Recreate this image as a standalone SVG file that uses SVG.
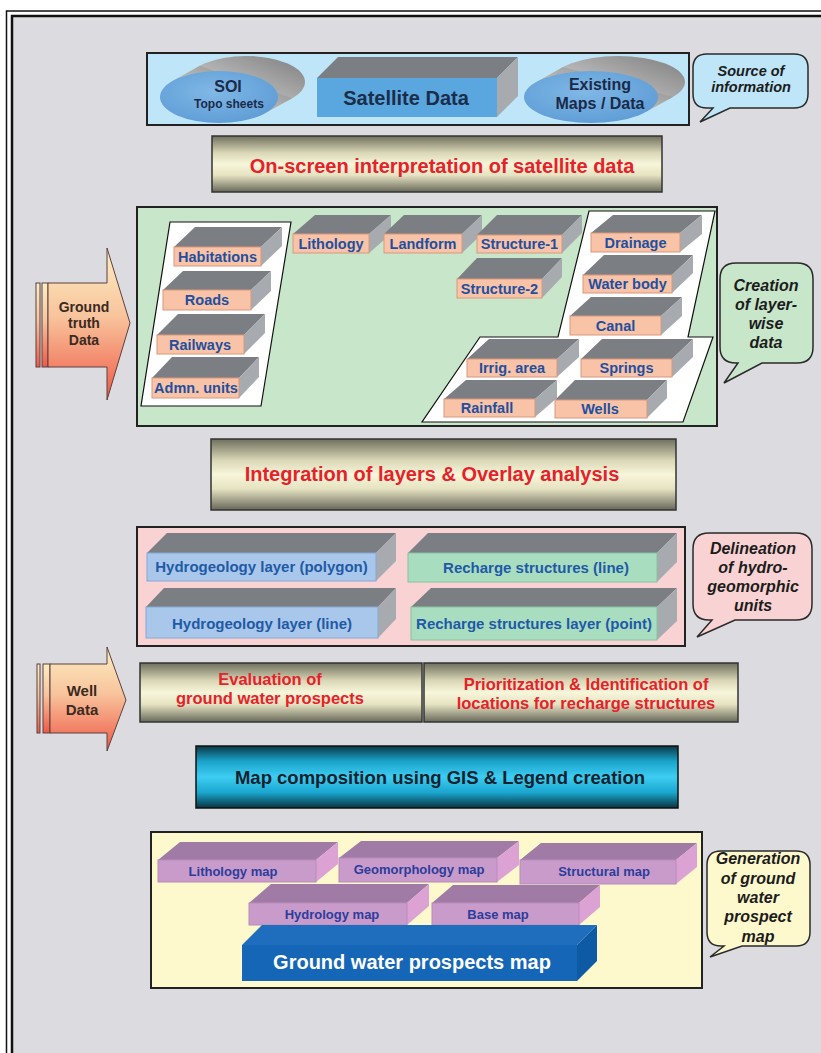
<svg xmlns="http://www.w3.org/2000/svg" width="821" height="1053" viewBox="0 0 821 1053">
<defs>
<linearGradient id="tan" x1="0" y1="0" x2="0" y2="1">
<stop offset="0" stop-color="#6f6f5e"/><stop offset="0.3" stop-color="#d9d7b6"/><stop offset="0.5" stop-color="#f8f6da"/><stop offset="0.7" stop-color="#e6e3c2"/><stop offset="1" stop-color="#68685a"/>
</linearGradient>
<linearGradient id="cyan" x1="0" y1="0" x2="0" y2="1">
<stop offset="0" stop-color="#0b3845"/><stop offset="0.25" stop-color="#1aa4cc"/><stop offset="0.5" stop-color="#3ecdf2"/><stop offset="0.75" stop-color="#1aa6cf"/><stop offset="1" stop-color="#083440"/>
</linearGradient>
<linearGradient id="arr" x1="0" y1="0" x2="0" y2="1">
<stop offset="0" stop-color="#fdeec2"/><stop offset="0.45" stop-color="#f8c49c"/><stop offset="1" stop-color="#ef5846"/>
</linearGradient>
<linearGradient id="grayback" x1="0" y1="1" x2="1" y2="0">
<stop offset="0" stop-color="#e2e2e2"/><stop offset="1" stop-color="#7e7e7e"/>
</linearGradient>
<radialGradient id="ell" cx="0.45" cy="0.4" r="0.7">
<stop offset="0" stop-color="#80b8e6"/><stop offset="1" stop-color="#5b9ad4"/>
</radialGradient>
<style>
.frame{fill:none;stroke:#111}
.panel{stroke:#222;stroke-width:2}
.top{fill:#7b7e83}
.side{fill:#a7abb0}
.sal{fill:#f8c3a7;stroke:#d9987f;stroke-width:1}
.blu{fill:#a9c7ea;stroke:#86a8d2;stroke-width:1}
.grn{fill:#a9ddc0;stroke:#88c2a2;stroke-width:1}
.ptop{fill:#a07ba6}
.pside{fill:#dca2d4}
.pur{fill:#c99bca;stroke:#b88bbb;stroke-width:1}
.proc{fill:url(#tan);stroke:#333;stroke-width:1.5}
.callout{stroke:#2a2a2a;stroke-width:1.5}
.t{font-family:"Liberation Sans",Arial,sans-serif;font-weight:bold;text-anchor:middle}
.lay{font-size:14.5px;fill:#1f4f9f}
.lay2{font-size:15px;fill:#1f5aa6}
.pm{font-size:13px;fill:#2b3d9c}
.red{fill:#e5222a}
.ci{font-style:italic;fill:#1c1c1c}
.arrow{fill:url(#arr);stroke:#5a4040;stroke-width:1}
</style>
</defs>

<rect x="0" y="0" width="821" height="1053" fill="#ffffff"/>
<g id="frame">
<rect class="frame" x="6.5" y="11" width="830" height="1060" stroke-width="1.5"/>
<rect x="12" y="16" width="830" height="1060" fill="#dcdce0" stroke="#111" stroke-width="2.5"/>
</g>

<g id="connectors"></g>

<!-- Source of information -->
<g id="source-box">
<rect class="panel" x="147" y="53" width="542" height="72" fill="#bfe6f8" stroke-width="2.5"/>
</g>
<g id="soi">
<ellipse cx="246" cy="82" rx="59" ry="26" fill="url(#grayback)"/>
<polygon points="265.2,113.2 292.2,98.2 199.8,65.8 172.8,80.8" fill="url(#grayback)"/>
<ellipse cx="219" cy="97" rx="59" ry="26" fill="url(#ell)"/>
<text class="t" x="228" y="92" font-size="16" fill="#1a2a48">SOI</text>
<text class="t" x="229" y="108" font-size="12" fill="#1a2a48">Topo sheets</text>
</g>
<g id="satellite">
<polygon class="top" points="317,78 338,57 518,57 497,78"/>
<polygon class="side" points="497,78 518,57 518,96 497,117"/>
<rect x="317" y="78" width="180" height="39" fill="#5aa6df"/>
<text class="t" x="406" y="105" font-size="20" fill="#1a2e4a">Satellite Data</text>
</g>
<g id="existing">
<ellipse cx="618" cy="82" rx="67" ry="26" fill="url(#grayback)"/>
<polygon points="645.9,111.9 672.9,96.9 563.1,67.1 536.1,82.1" fill="url(#grayback)"/>
<ellipse cx="591" cy="97" rx="67" ry="26" fill="url(#ell)"/>
<text class="t" x="600" y="90" font-size="16" fill="#1a2a48">Existing</text>
<text class="t" x="600" y="109" font-size="16" fill="#1a2a48">Maps / Data</text>
</g>
<g id="callout-source">
<path class="callout" fill="#bfe6f8" d="M707,54 H794 Q808,54 808,68 V94 Q808,108 794,108 H730 L700,122 L713,108 H707 Q693,108 693,94 V68 Q693,54 707,54 Z"/>
<text class="t ci" x="751" y="76" font-size="14.5" fill="#1a2a48">Source of</text>
<text class="t ci" x="751" y="92" font-size="14.5" fill="#1a2a48">information</text>
</g>

<g id="onscreen">
<rect class="proc" x="212" y="136" width="450" height="56"/>
<text class="t red" x="442" y="173" font-size="20">On-screen interpretation of satellite data</text>
</g>

<!-- Layer-wise data panel -->
<g id="layer-panel">
<rect class="panel" x="137" y="207" width="580" height="219" fill="#c8e6c9"/>
<polygon points="170,222 291,222 261,406 141,406" fill="#ffffff" stroke="#111" stroke-width="1.2"/>
<polygon points="589,211 715,211 688,337 713,337 683,422 422,422 480,337 558,337" fill="#ffffff" stroke="#111" stroke-width="1.2"/>
</g>
<g id="habitations">
<polygon class="top" points="174,247 195,227 282,227 261,247"/><polygon class="side" points="261,247 282,227 282,246 261,266"/>
<rect class="sal" x="174" y="247" width="87" height="19"/><text class="t lay" x="217.5" y="261.5">Habitations</text>
</g>
<g id="roads">
<polygon class="top" points="163,290 183,271 271,271 251,290"/><polygon class="side" points="251,290 271,271 271,291 251,310"/>
<rect class="sal" x="163" y="290" width="88" height="20"/><text class="t lay" x="207" y="305">Roads</text>
</g>
<g id="railways">
<polygon class="top" points="157,335 178,314 265,314 244,335"/><polygon class="side" points="244,335 265,314 265,333 244,354"/>
<rect class="sal" x="157" y="335" width="87" height="19"/><text class="t lay" x="200" y="349.5">Railways</text>
</g>
<g id="admn-units">
<polygon class="top" points="152,378 172,357 259,357 239,378"/><polygon class="side" points="239,378 259,357 259,377 239,398"/>
<rect class="sal" x="152" y="378" width="87" height="20"/><text class="t lay" x="196" y="393">Admn. units</text>
</g>
<g id="lithology">
<polygon class="top" points="293,234 315,215 391,215 369,234"/><polygon class="side" points="369,234 391,215 391,234 369,253"/>
<rect class="sal" x="293" y="234" width="76" height="19"/><text class="t lay" x="331" y="248.5">Lithology</text>
</g>
<g id="landform">
<polygon class="top" points="384,234 404,215 482,215 462,234"/><polygon class="side" points="462,234 482,215 482,234 462,253"/>
<rect class="sal" x="384" y="234" width="78" height="19"/><text class="t lay" x="423" y="248.5">Landform</text>
</g>
<g id="structure-1">
<polygon class="top" points="477,235 497,215 582,215 562,235"/><polygon class="side" points="562,235 582,215 582,233 562,253"/>
<rect class="sal" x="477" y="235" width="85" height="18"/><text class="t lay" x="519.5" y="249">Structure-1</text>
</g>
<g id="structure-2">
<polygon class="top" points="457,279 477,258 562,258 542,279"/><polygon class="side" points="542,279 562,258 562,277 542,298"/>
<rect class="sal" x="457" y="279" width="85" height="19"/><text class="t lay" x="499.5" y="293.5">Structure-2</text>
</g>
<g id="drainage">
<polygon class="top" points="591,233 613,215 702,215 680,233"/><polygon class="side" points="680,233 702,215 702,234 680,252"/>
<rect class="sal" x="591" y="233" width="89" height="19"/><text class="t lay" x="635.5" y="247.5">Drainage</text>
</g>
<g id="water-body">
<polygon class="top" points="583,275 604,255 693,255 672,275"/><polygon class="side" points="672,275 693,255 693,273 672,293"/>
<rect class="sal" x="583" y="275" width="89" height="18"/><text class="t lay" x="627.5" y="289">Water body</text>
</g>
<g id="canal">
<polygon class="top" points="570,316 591,297 682,297 661,316"/><polygon class="side" points="661,316 682,297 682,316 661,335"/>
<rect class="sal" x="570" y="316" width="91" height="19"/><text class="t lay" x="615.5" y="330.5">Canal</text>
</g>
<g id="irrig-area">
<polygon class="top" points="467,359 489,339 579,339 557,359"/><polygon class="side" points="557,359 579,339 579,357 557,377"/>
<rect class="sal" x="467" y="359" width="90" height="18"/><text class="t lay" x="512" y="373">Irrig. area</text>
</g>
<g id="springs">
<polygon class="top" points="581,359 602,339 693,339 672,359"/><polygon class="side" points="672,359 693,339 693,357 672,377"/>
<rect class="sal" x="581" y="359" width="91" height="18"/><text class="t lay" x="626.5" y="373">Springs</text>
</g>
<g id="rainfall">
<polygon class="top" points="444,399 466,380 557,380 535,399"/><polygon class="side" points="535,399 557,380 557,398 535,417"/>
<rect class="sal" x="444" y="399" width="91" height="18"/><text class="t lay" x="487" y="413">Rainfall</text>
</g>
<g id="wells">
<polygon class="top" points="555,400 575,380 667,380 647,400"/><polygon class="side" points="647,400 667,380 667,398 647,418"/>
<rect class="sal" x="555" y="400" width="92" height="18"/><text class="t lay" x="600" y="414">Wells</text>
</g>
<g id="callout-creation">
<path class="callout" fill="#c8e6c9" d="M736,263 H797 Q813,263 813,279 V347 Q813,363 797,363 H762 L724,383 L738,363 H736 Q720,363 720,347 V279 Q720,263 736,263 Z"/>
<text class="t ci" x="766" y="291" font-size="16">Creation</text>
<text class="t ci" x="766" y="310" font-size="16">of layer-</text>
<text class="t ci" x="766" y="329" font-size="16">wise</text>
<text class="t ci" x="766" y="348" font-size="16">data</text>
</g>

<g id="ground-truth">
<rect class="arrow" x="36" y="283" width="4" height="84"/>
<rect class="arrow" x="42" y="283" width="6" height="84"/>
<path class="arrow" d="M48,283 H107 V248 L130,323 L107,400 V367 H48 Z"/>
<text class="t" x="84" y="312" font-size="14" fill="#3a2a22">Ground</text>
<text class="t" x="84" y="328" font-size="14" fill="#3a2a22">truth</text>
<text class="t" x="84" y="345" font-size="14" fill="#3a2a22">Data</text>
</g>

<g id="integration">
<rect class="proc" x="211" y="439" width="465" height="71"/>
<text class="t red" x="432" y="481" font-size="20">Integration of layers &amp; Overlay analysis</text>
</g>

<!-- Hydro-geomorphic panel -->
<g id="hydro-panel">
<rect class="panel" x="137" y="527" width="548" height="119" fill="#f9d3d3"/>
</g>
<g id="hydro-polygon">
<polygon class="top" points="147,553 167,533 396,533 376,553"/><polygon class="side" points="376,553 396,533 396,561 376,581"/>
<rect class="blu" x="147" y="553" width="229" height="28"/><text class="t lay2" x="261.5" y="572">Hydrogeology layer (polygon)</text>
</g>
<g id="recharge-line">
<polygon class="top" points="408,553 428,533 677,533 657,553"/><polygon class="side" points="657,553 677,533 677,562 657,582"/>
<rect class="grn" x="408" y="553" width="249" height="29"/><text class="t lay2" x="536" y="573">Recharge structures (line)</text>
</g>
<g id="hydro-line">
<polygon class="top" points="146,607 164,588 396,588 378,607"/><polygon class="side" points="378,607 396,588 396,619 378,638"/>
<rect class="blu" x="146" y="607" width="232" height="31"/><text class="t lay2" x="262" y="629">Hydrogeology layer (line)</text>
</g>
<g id="recharge-point">
<polygon class="top" points="411,607 431,588 677,588 657,607"/><polygon class="side" points="657,607 677,588 677,621 657,640"/>
<rect class="grn" x="411" y="607" width="246" height="33"/><text class="t lay2" x="534" y="629">Recharge structures layer (point)</text>
</g>
<g id="callout-delineation">
<path class="callout" fill="#f9d3d3" d="M709,533 H796 Q812,533 812,549 V604 Q812,620 796,620 H735 L697,637 L712,620 H709 Q693,620 693,604 V549 Q693,533 709,533 Z"/>
<text class="t ci" x="753" y="554" font-size="16">Delineation</text>
<text class="t ci" x="753" y="573" font-size="16">of hydro-</text>
<text class="t ci" x="753" y="592" font-size="16">geomorphic</text>
<text class="t ci" x="753" y="611" font-size="16">units</text>
</g>

<g id="well-data">
<rect class="arrow" x="37" y="664" width="3" height="69"/>
<rect class="arrow" x="43" y="664" width="7" height="69"/>
<path class="arrow" d="M50,664 H107 V647 L126,700 L107,751 V733 H50 Z"/>
<text class="t" x="82" y="696" font-size="15" fill="#3a2a22">Well</text>
<text class="t" x="82" y="715" font-size="15" fill="#3a2a22">Data</text>
</g>

<g id="evaluation">
<rect class="proc" x="140" y="663" width="282" height="59"/>
<text class="t red" x="270" y="685" font-size="16.5">Evaluation of</text>
<text class="t red" x="270" y="704" font-size="16.5">ground water prospects</text>
</g>
<g id="prioritization">
<rect class="proc" x="424" y="663" width="314" height="59"/>
<text class="t red" x="586" y="690" font-size="16.5">Prioritization &amp; Identification of</text>
<text class="t red" x="586" y="709" font-size="16.5">locations for recharge structures</text>
</g>

<g id="map-composition">
<rect x="196" y="746" width="482" height="62" fill="url(#cyan)" stroke="#111" stroke-width="1.5"/>
<text class="t" x="440" y="783.5" font-size="18.5" fill="#14222e">Map composition using GIS &amp; Legend creation</text>
</g>

<!-- Map generation panel -->
<g id="map-panel">
<rect class="panel" x="151" y="832" width="551" height="156" fill="#fdf9cc"/>
</g>
<g id="lithology-map">
<polygon class="ptop" points="158,860 180,842 338,842 316,860"/><polygon class="pside" points="316,860 338,842 338,864 316,882"/>
<rect class="pur" x="158" y="860" width="158" height="22"/><text class="t pm" x="233" y="875.5">Lithology map</text>
</g>
<g id="geomorphology-map">
<polygon class="ptop" points="339,858 361,841 519,841 497,858"/><polygon class="pside" points="497,858 519,841 519,865 497,882"/>
<rect class="pur" x="339" y="858" width="158" height="24"/><text class="t pm" x="419" y="873.5">Geomorphology map</text>
</g>
<g id="structural-map">
<polygon class="ptop" points="520,860 541,843 697,843 676,860"/><polygon class="pside" points="676,860 697,843 697,867 676,884"/>
<rect class="pur" x="520" y="860" width="156" height="24"/><text class="t pm" x="604" y="876">Structural map</text>
</g>
<g id="hydrology-map">
<polygon class="ptop" points="249,903 271,884 429,884 407,903"/><polygon class="pside" points="407,903 429,884 429,906 407,925"/>
<rect class="pur" x="249" y="903" width="158" height="22"/><text class="t pm" x="332" y="918.5">Hydrology map</text>
</g>
<g id="base-map">
<polygon class="ptop" points="432,903 453,885 600,885 579,903"/><polygon class="pside" points="579,903 600,885 600,907 579,925"/>
<rect class="pur" x="432" y="903" width="147" height="22"/><text class="t pm" x="498" y="918.5">Base map</text>
</g>
<g id="gw-prospects-map">
<polygon points="242,945 262,925 597,925 577,945" fill="#1e6ebd"/>
<polygon points="577,945 597,925 597,961 577,981" fill="#0f5aa4"/>
<rect x="242" y="945" width="335" height="36" fill="#1566b7"/>
<text class="t" x="412" y="969" font-size="20" fill="#ffffff">Ground water prospects map</text>
</g>
<g id="callout-generation">
<path class="callout" fill="#fdf9cc" d="M721,851 H796 Q810,851 810,865 V932 Q810,946 796,946 H742 L710,957 L724,946 H721 Q707,946 707,932 V865 Q707,851 721,851 Z"/>
<text class="t ci" x="758" y="864" font-size="16">Generation</text>
<text class="t ci" x="758" y="884" font-size="16">of ground</text>
<text class="t ci" x="758" y="903" font-size="16">water</text>
<text class="t ci" x="758" y="922" font-size="16">prospect</text>
<text class="t ci" x="758" y="942" font-size="16">map</text>
</g>
</svg>
